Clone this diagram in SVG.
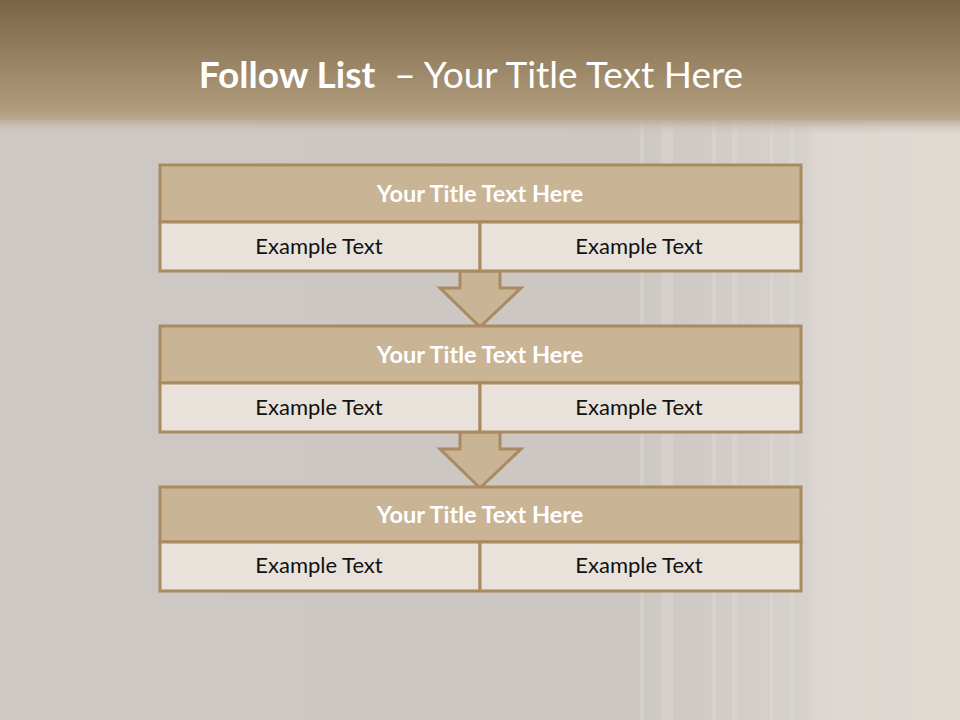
<svg xmlns="http://www.w3.org/2000/svg" width="960" height="720" viewBox="0 0 960 720">
<defs>
<linearGradient id="hdr" x1="0" y1="0" x2="0" y2="1">
<stop offset="0" stop-color="#7a6446"/>
<stop offset="0.8" stop-color="#b09a7c"/>
<stop offset="0.88" stop-color="#b9a88f"/>
<stop offset="1" stop-color="#cfcac5" stop-opacity="0"/>
</linearGradient>
<linearGradient id="bg" x1="0" y1="0" x2="1" y2="0">
<stop offset="0" stop-color="#cdc8c3"/>
<stop offset="0.66" stop-color="#ccc7c2"/>
<stop offset="0.84" stop-color="#d6d1cc"/>
<stop offset="0.85" stop-color="#ddd7d1"/>
<stop offset="1" stop-color="#e0dad3"/>
</linearGradient>
<style>
.ttl{fill:#c9b496;stroke:#a98a61;stroke-width:3}
.cell{fill:#e9e2da;stroke:#a98a61;stroke-width:3}
.arrow{fill:#c9b496;stroke:#a98a61;stroke-width:3;stroke-linejoin:miter}
.th{font-family:Lato,"Open Sans",sans-serif;font-weight:bold;font-size:23.5px;fill:#ffffff;text-anchor:middle}
.ex{font-family:Lato,"Open Sans",sans-serif;font-size:22px;fill:#111111;text-anchor:middle}
.stripe{fill:#e6e2dc;opacity:0.3}
</style>
</defs>
<rect x="0" y="0" width="960" height="720" fill="url(#bg)"/>
<g id="stripes">
<rect class="stripe" x="640" y="110" width="4" height="610"/>
<rect class="stripe" x="661" y="110" width="12" height="610"/>
<rect class="stripe" x="712" y="110" width="4" height="610"/>
<rect class="stripe" x="732" y="110" width="5" height="610"/>
<rect class="stripe" x="770" y="110" width="3" height="610"/>
<rect class="stripe" x="790" y="110" width="4" height="610"/>
</g>
<rect x="0" y="0" width="960" height="135" fill="url(#hdr)"/>
<text x="471" y="88" text-anchor="middle" font-family="Lato,'Open Sans',sans-serif" font-size="37" fill="#ffffff" xml:space="preserve"><tspan font-weight="bold">Follow List</tspan>  – Your Title Text Here</text>
<g id="connectors">
<polygon class="arrow" points="460,271 500,271 500,288 521,288 480,327 440,288 460,288"/>
<polygon class="arrow" points="460,432 500,432 500,449 521,449 480,488 440,449 460,449"/>
</g>
<g id="block1">
<rect class="ttl" x="160" y="165" width="641" height="57"/>
<rect class="cell" x="160" y="222" width="320" height="49"/>
<rect class="cell" x="480" y="222" width="321" height="49"/>
<text class="th" x="480" y="202">Your Title Text Here</text>
<text class="ex" x="319" y="254">Example Text</text>
<text class="ex" x="639" y="254">Example Text</text>
</g>
<g id="block2">
<rect class="ttl" x="160" y="326" width="641" height="57"/>
<rect class="cell" x="160" y="383" width="320" height="49"/>
<rect class="cell" x="480" y="383" width="321" height="49"/>
<text class="th" x="480" y="363">Your Title Text Here</text>
<text class="ex" x="319" y="415">Example Text</text>
<text class="ex" x="639" y="415">Example Text</text>
</g>
<g id="block3">
<rect class="ttl" x="160" y="487" width="641" height="55"/>
<rect class="cell" x="160" y="542" width="320" height="49"/>
<rect class="cell" x="480" y="542" width="321" height="49"/>
<text class="th" x="480" y="523">Your Title Text Here</text>
<text class="ex" x="319" y="573">Example Text</text>
<text class="ex" x="639" y="573">Example Text</text>
</g>
</svg>
